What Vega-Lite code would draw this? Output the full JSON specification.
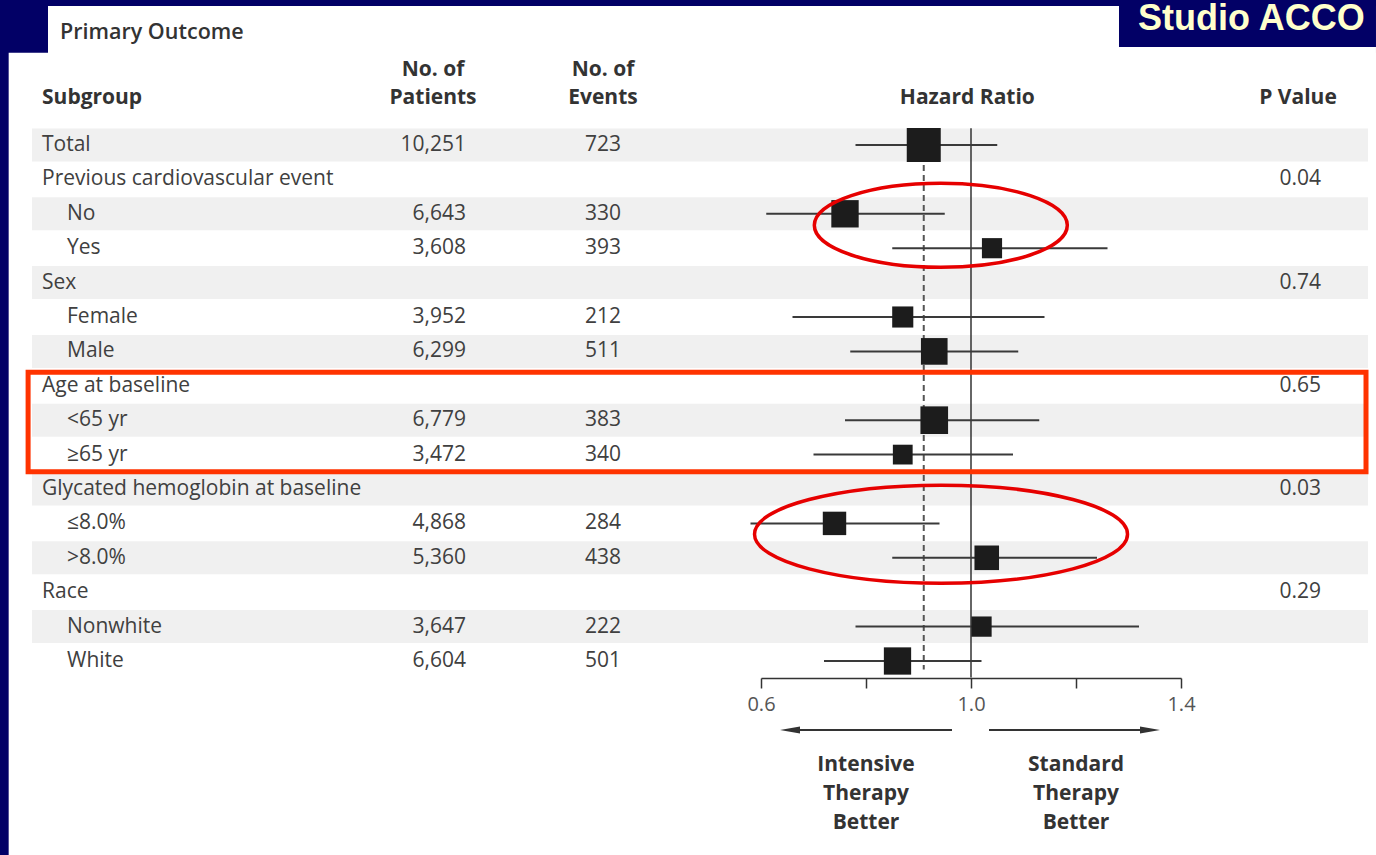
{
  "$schema": "https://vega.github.io/schema/vega-lite/v6.json",
  "width": 1376,
  "height": 855,
  "autosize": {"type": "none"},
  "padding": 0,
  "background": "#020066",
  "config": {
    "view": {"stroke": null},
    "axis": {"grid": false},
    "axisY": {"disable": true},
    "font": "Open Sans",
    "text": {"font": "Open Sans", "fontSize": 21, "color": "#404040"}
  },
  "datasets": {
    "subgroups": [
      {"row": 0, "label": "Total", "level": 0, "patients": 10251, "events": 723, "hr": 0.91, "lo": 0.78, "hi": 1.05},
      {"row": 1, "label": "Previous cardiovascular event", "level": 0, "p": 0.04},
      {"row": 2, "label": "No", "level": 1, "patients": 6643, "events": 330, "hr": 0.76, "lo": 0.61, "hi": 0.95},
      {"row": 3, "label": "Yes", "level": 1, "patients": 3608, "events": 393, "hr": 1.04, "lo": 0.85, "hi": 1.26},
      {"row": 4, "label": "Sex", "level": 0, "p": 0.74},
      {"row": 5, "label": "Female", "level": 1, "patients": 3952, "events": 212, "hr": 0.87, "lo": 0.66, "hi": 1.14},
      {"row": 6, "label": "Male", "level": 1, "patients": 6299, "events": 511, "hr": 0.93, "lo": 0.77, "hi": 1.09},
      {"row": 7, "label": "Age at baseline", "level": 0, "p": 0.65},
      {"row": 8, "label": "<65 yr", "level": 1, "patients": 6779, "events": 383, "hr": 0.93, "lo": 0.76, "hi": 1.13},
      {"row": 9, "label": "≥65 yr", "level": 1, "patients": 3472, "events": 340, "hr": 0.87, "lo": 0.70, "hi": 1.08},
      {"row": 10, "label": "Glycated hemoglobin at baseline", "level": 0, "p": 0.03},
      {"row": 11, "label": "≤8.0%", "level": 1, "patients": 4868, "events": 284, "hr": 0.74, "lo": 0.58, "hi": 0.94},
      {"row": 12, "label": ">8.0%", "level": 1, "patients": 5360, "events": 438, "hr": 1.03, "lo": 0.85, "hi": 1.24},
      {"row": 13, "label": "Race", "level": 0, "p": 0.29},
      {"row": 14, "label": "Nonwhite", "level": 1, "patients": 3647, "events": 222, "hr": 1.02, "lo": 0.78, "hi": 1.32},
      {"row": 15, "label": "White", "level": 1, "patients": 6604, "events": 501, "hr": 0.86, "lo": 0.72, "hi": 1.02}
    ]
  },
  "layer": [
    {
      "data": {"values": [{}]},
      "mark": {"type": "rect", "fill": "#ffffff"},
      "encoding": {
        "x": {"datum": -0.7581, "scale": {"domain": [0.6, 1.4], "range": [761, 1181], "nice": false, "zero": false}},
        "x2": {"datum": 1.7714},
        "y": {"datum": -4.0407, "scale": {"domain": [-4.2151, 20.6395], "range": [0, 855], "nice": false, "zero": false}},
        "y2": {"datum": 20.6395}
      }
    },
    {
      "data": {"values": [{}]},
      "mark": {"type": "rect", "fill": "#ffffff"},
      "encoding": {
        "x": {"datum": -0.833},
        "x2": {"datum": 1.7714},
        "y": {"datum": -2.6831},
        "y2": {"datum": 20.6395}
      }
    },
    {
      "data": {"name": "subgroups"},
      "transform": [{"filter": "datum.row % 2 === 0"}],
      "mark": {"type": "rule", "color": "#f0f0f0", "strokeWidth": 33, "strokeCap": "butt"},
      "encoding": {
        "x": {"datum": -0.7886},
        "x2": {"datum": 1.7562},
        "y": {"field": "row", "type": "quantitative"}
      }
    },
    {
      "data": {"values": [{}]},
      "mark": {"type": "rule", "color": "#333333", "strokeWidth": 1.5},
      "encoding": {
        "x": {"datum": 1.0},
        "y": {"datum": -0.49},
        "y2": {"datum": 15.48}
      }
    },
    {
      "data": {"name": "subgroups"},
      "transform": [{"filter": "datum.row === 0"}],
      "mark": {"type": "rule", "color": "#555555", "strokeWidth": 2, "strokeDash": [6, 4]},
      "encoding": {
        "x": {"field": "hr", "type": "quantitative", "title": null},
        "y": {"datum": 0},
        "y2": {"datum": 15.25}
      }
    },
    {
      "data": {"name": "subgroups"},
      "transform": [{"filter": "isValid(datum.hr)"}],
      "mark": {"type": "rule", "color": "#3a3a3a", "strokeWidth": 2},
      "encoding": {
        "x": {
          "field": "lo",
          "type": "quantitative",
          "title": null,
          "axis": {
            "orient": "bottom",
            "offset": -177,
            "zindex": 1,
            "values": [0.6, 0.8, 1.0, 1.2, 1.4],
            "labelExpr": "abs(datum.value - 0.8) < 1e-6 || abs(datum.value - 1.2) < 1e-6 ? '' : format(datum.value, '.1f')",
            "labelFlush": false,
            "labelFont": "Open Sans",
            "labelFontSize": 20,
            "labelColor": "#555555",
            "labelPadding": 6,
            "domainColor": "#333333",
            "domainWidth": 1.5,
            "tickColor": "#333333",
            "tickWidth": 1.5,
            "tickSize": 10
          }
        },
        "x2": {"field": "hi"},
        "y": {"field": "row", "type": "quantitative"}
      }
    },
    {
      "data": {"name": "subgroups"},
      "transform": [{"filter": "isValid(datum.hr)"}],
      "mark": {"type": "point", "shape": "square", "filled": true, "color": "#1c1c1c", "opacity": 1},
      "encoding": {
        "x": {"field": "hr", "type": "quantitative", "title": null},
        "y": {"field": "row", "type": "quantitative"},
        "size": {"field": "patients", "type": "quantitative", "legend": null, "scale": {"domain": [0, 10251], "range": [0, 1156]}}
      }
    },
    {
      "data": {"name": "subgroups"},
      "transform": [{"filter": "datum.level === 0"}],
      "mark": {"type": "text", "align": "left", "baseline": "middle"},
      "encoding": {
        "x": {"datum": -0.7695},
        "y": {"field": "row", "type": "quantitative"},
        "text": {"field": "label"}
      }
    },
    {
      "data": {"name": "subgroups"},
      "transform": [{"filter": "datum.level === 1"}],
      "mark": {"type": "text", "align": "left", "baseline": "middle"},
      "encoding": {
        "x": {"datum": -0.7219},
        "y": {"field": "row", "type": "quantitative"},
        "text": {"field": "label"}
      }
    },
    {
      "data": {"name": "subgroups"},
      "transform": [{"filter": "isValid(datum.patients)"}],
      "mark": {"type": "text", "align": "right", "baseline": "middle"},
      "encoding": {
        "x": {"datum": 0.0381},
        "y": {"field": "row", "type": "quantitative"},
        "text": {"field": "patients", "type": "quantitative", "format": ","}
      }
    },
    {
      "data": {"name": "subgroups"},
      "transform": [{"filter": "isValid(datum.events)"}],
      "mark": {"type": "text", "align": "right", "baseline": "middle"},
      "encoding": {
        "x": {"datum": 0.3333},
        "y": {"field": "row", "type": "quantitative"},
        "text": {"field": "events", "type": "quantitative", "format": ","}
      }
    },
    {
      "data": {"name": "subgroups"},
      "transform": [{"filter": "isValid(datum.p)"}],
      "mark": {"type": "text", "align": "right", "baseline": "middle"},
      "encoding": {
        "x": {"datum": 1.6667},
        "y": {"field": "row", "type": "quantitative"},
        "text": {"field": "p", "type": "quantitative", "format": ".2f"}
      }
    },
    {
      "data": {"values": [{}]},
      "mark": {"type": "text", "text": "Primary Outcome", "align": "left", "baseline": "middle", "fontWeight": 600, "fontSize": 21.5, "color": "#333333"},
      "encoding": {"x": {"datum": -0.7352}, "y": {"datum": -3.27}}
    },
    {
      "data": {"values": [{}]},
      "mark": {"type": "text", "text": "Subgroup", "align": "left", "baseline": "middle", "fontWeight": "bold", "color": "#333333"},
      "encoding": {"x": {"datum": -0.7695}, "y": {"datum": -1.366}}
    },
    {
      "data": {"values": [{}]},
      "mark": {"type": "text", "text": ["No. of", "Patients"], "lineHeight": 28, "align": "center", "baseline": "middle", "fontWeight": "bold", "color": "#333333"},
      "encoding": {"x": {"datum": -0.0248}, "y": {"datum": -2.18}}
    },
    {
      "data": {"values": [{}]},
      "mark": {"type": "text", "text": ["No. of", "Events"], "lineHeight": 28, "align": "center", "baseline": "middle", "fontWeight": "bold", "color": "#333333"},
      "encoding": {"x": {"datum": 0.299}, "y": {"datum": -2.18}}
    },
    {
      "data": {"values": [{}]},
      "mark": {"type": "text", "text": "Hazard Ratio", "align": "center", "baseline": "middle", "fontWeight": "bold", "color": "#333333"},
      "encoding": {"x": {"datum": 0.993}, "y": {"datum": -1.366}}
    },
    {
      "data": {"values": [{}]},
      "mark": {"type": "text", "text": "P Value", "align": "center", "baseline": "middle", "fontWeight": "bold", "color": "#333333"},
      "encoding": {"x": {"datum": 1.6229}, "y": {"datum": -1.366}}
    },
    {
      "data": {"values": [{}]},
      "mark": {"type": "rule", "color": "#333333", "strokeWidth": 2},
      "encoding": {"x": {"datum": 0.9638}, "x2": {"datum": 0.6552}, "y": {"datum": 17.006}}
    },
    {
      "data": {"values": [{}]},
      "mark": {"type": "point", "shape": "M-1,0L1,-0.35L1,0.35Z", "size": 400, "filled": true, "color": "#333333", "opacity": 1},
      "encoding": {"x": {"datum": 0.6552}, "y": {"datum": 17.006}}
    },
    {
      "data": {"values": [{}]},
      "mark": {"type": "rule", "color": "#333333", "strokeWidth": 2},
      "encoding": {"x": {"datum": 1.0343}, "x2": {"datum": 1.341}, "y": {"datum": 17.006}}
    },
    {
      "data": {"values": [{}]},
      "mark": {"type": "point", "shape": "M1,0L-1,-0.35L-1,0.35Z", "size": 400, "filled": true, "color": "#333333", "opacity": 1},
      "encoding": {"x": {"datum": 1.341}, "y": {"datum": 17.006}}
    },
    {
      "data": {"values": [{}]},
      "mark": {"type": "text", "text": ["Intensive", "Therapy", "Better"], "lineHeight": 29, "align": "center", "baseline": "middle", "fontWeight": "bold", "color": "#333333"},
      "encoding": {"x": {"datum": 0.8}, "y": {"datum": 18.023}}
    },
    {
      "data": {"values": [{}]},
      "mark": {"type": "text", "text": ["Standard", "Therapy", "Better"], "lineHeight": 29, "align": "center", "baseline": "middle", "fontWeight": "bold", "color": "#333333"},
      "encoding": {"x": {"datum": 1.2}, "y": {"datum": 18.023}}
    },
    {
      "data": {"values": [{}]},
      "mark": {"type": "rect", "fill": null, "fillOpacity": 0, "stroke": "#ff3300", "strokeWidth": 5},
      "encoding": {"x": {"datum": -0.796}, "x2": {"datum": 1.7524}, "y": {"datum": 6.608}, "y2": {"datum": 9.497}}
    },
    {
      "data": {"values": [{}]},
      "mark": {"type": "point", "shape": "M-1,0A1,0.332,0,1,0,1,0A1,0.332,0,1,0,-1,0Z", "size": 64009, "filled": false, "stroke": "#e60000", "strokeWidth": 3.5, "opacity": 1},
      "encoding": {"x": {"datum": 0.9425}, "y": {"datum": 2.334}}
    },
    {
      "data": {"values": [{}]},
      "mark": {"type": "point", "shape": "M-1,0A1,0.263,0,1,0,1,0A1,0.263,0,1,0,-1,0Z", "size": 139129, "filled": false, "stroke": "#e60000", "strokeWidth": 3.5, "opacity": 1},
      "encoding": {"x": {"datum": 0.9429}, "y": {"datum": 11.314}}
    },
    {
      "data": {"values": [{}]},
      "mark": {"type": "rect", "fill": "#020066"},
      "encoding": {"x": {"datum": 1.2819}, "x2": {"datum": 1.7714}, "y": {"datum": -4.2151}, "y2": {"datum": -2.8488}}
    },
    {
      "data": {"values": [{}]},
      "mark": {"type": "text", "text": "Studio ACCO", "align": "left", "baseline": "alphabetic", "font": "Liberation Sans", "fontWeight": "bold", "fontSize": 36, "color": "#ffffcc"},
      "encoding": {"x": {"datum": 1.3181}, "y": {"datum": -3.35}}
    }
  ]
}
